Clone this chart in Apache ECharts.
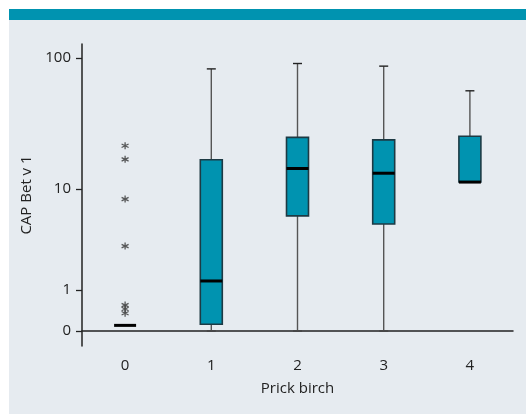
<!DOCTYPE html>
<html>
<head>
<meta charset="utf-8">
<script src="https://cdn.jsdelivr.net/npm/echarts@6/dist/echarts.min.js"></script>
<style>
html,body{margin:0;padding:0;background:#fff;}
#chart{width:526px;height:415px;}
</style>
</head>
<body>
<div id="chart"></div>
<script>
// ---- data (raw values; y axis drawn on log10(v+1) scale) ----
const categories = ['0', '1', '2', '3', '4'];
const whiskerLow  = [0.1, 0,    0,    0,    11.4];
const q1          = [0.1, 0.12, 6.0,  5.1,  11.4];
const median      = [0.1, 1.33, 14.6, 13.4, 11.4];
const q3          = [0.1, 17.1, 25.4, 24.3, 25.9];
const whiskerHigh = [0.1, 83,   91,   87,   57];
const outlierCat  = [0, 0, 0, 0, 0, 0, 0];
const outlierVal  = [21.9, 17.2, 8.3, 3.2, 0.55, 0.45, 0.35];
const yTickLabels = [0, 1, 10, 100];

const t = v => Math.log10(v + 1);

const boxData = categories.map((c, i) => [i, t(whiskerLow[i]), t(q1[i]), t(median[i]), t(q3[i]), t(whiskerHigh[i])]);
const outlierData = outlierVal.map((v, i) => [outlierCat[i], t(v)]);

const chart = echarts.init(document.getElementById('chart'), null, {renderer: 'canvas'});

function renderBox(params, api) {
  const idx = api.value(0);
  const x = api.coord([idx, 0])[0];
  const bw = api.size([1, 0])[0] * 0.255;
  const capW = 9;
  const y = k => api.coord([idx, api.value(k)])[1];
  const yMin = y(1), yQ1 = y(2), yMed = y(3), yQ3 = y(4), yMax = y(5);
  const children = [];
  const whisk = {stroke: '#555', lineWidth: 1.4};
  const cap = {stroke: '#222', lineWidth: 1.4};
  if (yMax < yQ3 - 0.5) {
    children.push({type: 'line', shape: {x1: x, y1: yQ3, x2: x, y2: yMax}, style: whisk});
    children.push({type: 'line', shape: {x1: x - capW / 2, y1: yMax, x2: x + capW / 2, y2: yMax}, style: cap});
  }
  if (yMin > yQ1 + 0.5) {
    children.push({type: 'line', shape: {x1: x, y1: yQ1, x2: x, y2: yMin}, style: whisk});
    children.push({type: 'line', shape: {x1: x - capW / 2, y1: yMin, x2: x + capW / 2, y2: yMin}, style: {stroke: '#444', lineWidth: 1.4}});
  }
  if (yQ1 - yQ3 > 0.5) {
    children.push({type: 'rect', shape: {x: x - bw / 2, y: yQ3, width: bw, height: yQ1 - yQ3},
      style: {fill: '#0093b0', stroke: '#1d3a44', lineWidth: 1.6}});
  }
  children.push({type: 'line', shape: {x1: x - bw / 2, y1: yMed, x2: x + bw / 2, y2: yMed}, style: {stroke: '#000', lineWidth: 3}});
  return {type: 'group', children: children};
}

const FS = 15;
const option = {
  backgroundColor: '#ffffff',
  animation: false,
  textStyle: {fontFamily: 'Open Sans'},
  graphic: [
    {type: 'rect', left: 9, top: 20, shape: {width: 517, height: 394}, style: {fill: '#e6ebf0'}, z: -10},
    {type: 'rect', left: 9, top: 9, shape: {width: 517, height: 11}, style: {fill: '#0093b0'}, z: -10}
  ],
  grid: {left: 82, right: 13, top: 44, bottom: 69, containLabel: false},
  xAxis: {
    type: 'category',
    data: categories,
    boundaryGap: true,
    name: 'Prick birch',
    nameLocation: 'middle',
    nameGap: 35,
    nameTextStyle: {fontSize: FS, color: '#222', fontFamily: 'Open Sans'},
    axisLine: {lineStyle: {color: '#222', width: 1.5}},
    axisTick: {alignWithLabel: true, length: 6, lineStyle: {color: '#111', width: 2}},
    axisLabel: {fontSize: FS, color: '#222', margin: 12, fontFamily: 'Open Sans'},
    splitLine: {show: false}
  },
  yAxis: {
    type: 'value',
    min: -0.11,
    max: 2.107,
    name: 'CAP Bet v 1',
    nameLocation: 'middle',
    nameGap: 43,
    nameTextStyle: {fontSize: FS, color: '#222', fontFamily: 'Open Sans'},
    axisLine: {show: true, lineStyle: {color: '#222', width: 1.5}},
    axisTick: {show: true, length: 6, lineStyle: {color: '#222', width: 1.3}, customValues: yTickLabels.map(t)},
    axisLabel: {fontSize: FS, color: '#222', margin: 11, fontFamily: 'Open Sans',
      customValues: yTickLabels.map(t),
      formatter: v => String(Math.round(Math.pow(10, v) - 1))},
    splitLine: {show: false}
  },
  series: [
    {
      type: 'custom',
      renderItem: renderBox,
      data: boxData,
      encode: {x: 0, y: [1, 2, 3, 4, 5]},
      z: 3
    },
    {
      type: 'scatter',
      data: outlierData,
      symbol: 'path://M0,-5L0,5M-4.33,-2.5L4.33,2.5M-4.33,2.5L4.33,-2.5',
      symbolSize: 7,
      itemStyle: {color: 'rgba(0,0,0,0)', borderColor: '#333', borderWidth: 1.3},
      z: 4
    }
  ]
};
chart.setOption(option);
</script>
</body>
</html>
